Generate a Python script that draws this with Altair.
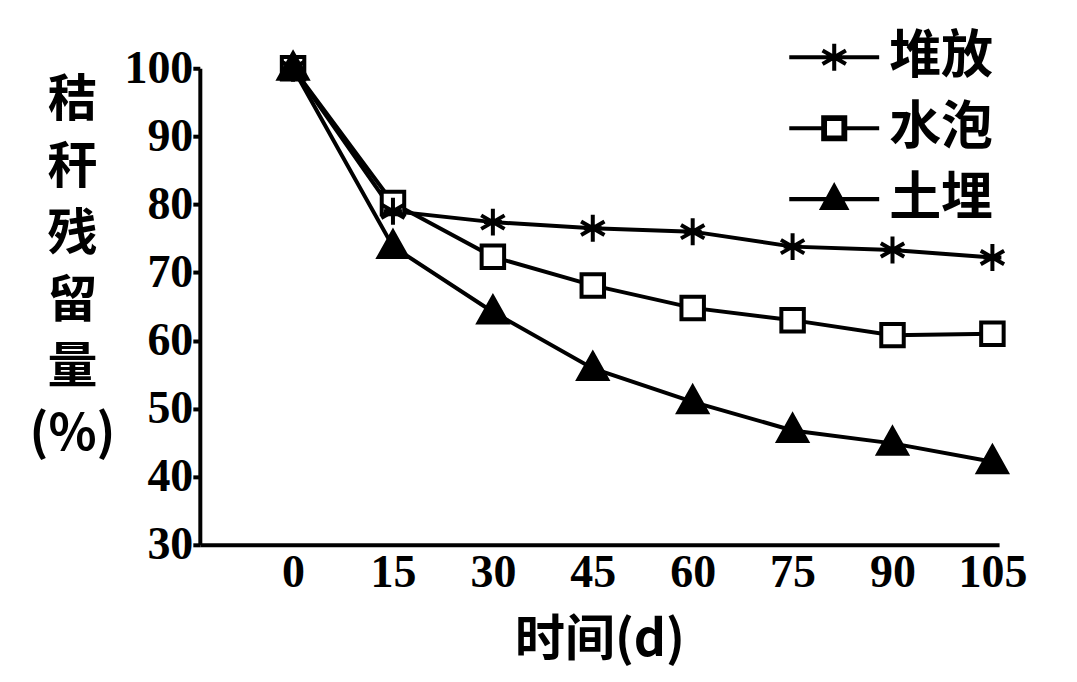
import altair as alt
import pandas as pd
import math

days = [0, 15, 30, 45, 60, 75, 90, 105]
series_names = ["堆放", "水泡", "土埋"]
duifang = [100, 79.0, 77.4, 76.5, 76.0, 73.8, 73.3, 72.2]
shuipao = [100, 80.2, 72.3, 68.1, 64.8, 63.0, 60.8, 61.0]
tumai = [100, 73.8, 64.2, 55.9, 51.0, 46.8, 44.9, 42.2]
y_ticks = [30, 40, 50, 60, 70, 80, 90, 100]

rows = []
# draw order: square first so the overlapped start point stays dark
for name, vals in [("水泡", shuipao), ("堆放", duifang), ("土埋", tumai)]:
    for d, v in zip(days, vals):
        rows.append({"day": d, "value": v, "series": name})
df = pd.DataFrame(rows)


# ---- symbol path helpers (style only) ----
def poly(pts, positive=True):
    area = sum(pts[i][0] * pts[(i + 1) % len(pts)][1] - pts[(i + 1) % len(pts)][0] * pts[i][1]
               for i in range(len(pts)))
    if (area > 0) != positive:
        pts = pts[::-1]
    s = "M" + "L".join(f"{x:.3f},{y:.3f}" for x, y in pts) + "Z"
    return s


def bar(x1, y1, x2, y2, w):
    dx, dy = x2 - x1, y2 - y1
    L = math.hypot(dx, dy)
    nx, ny = -dy / L * w / 2, dx / L * w / 2
    return poly([(x1 + nx, y1 + ny), (x2 + nx, y2 + ny), (x2 - nx, y2 - ny), (x1 - nx, y1 - ny)])


# marker shapes for the plotted points (unit paths)
ast = "M0,-0.9V0.9M-0.78,-0.45L0.78,0.45M-0.78,0.45L0.78,-0.45M-0.6,0H0.6"
sq = "M-0.75,-0.75H0.75V0.75H-0.75Z"
tri = "M0,-1L0.95,0.7H-0.95Z"

# legend shapes: line with marker in the middle, all built from filled areas
lw = 0.09
arm = 0.3
l_ast = (bar(-1, 0, 1, 0, lw) + bar(0, -arm, 0, arm, lw)
         + bar(-arm * 0.866, -arm * 0.5, arm * 0.866, arm * 0.5, lw)
         + bar(-arm * 0.866, arm * 0.5, arm * 0.866, -arm * 0.5, lw))
so, si = 0.29, 0.16
l_sq = (bar(-1, 0, -so, 0, lw) + bar(so, 0, 1, 0, lw)
        + poly([(-so, -so), (so, -so), (so, so), (-so, so)], True)
        + poly([(-si, -si), (si, -si), (si, si), (-si, si)], False))
l_tri = bar(-1, 0, 1, 0, lw) + poly([(0, -0.38), (0.34, 0.24), (-0.34, 0.24)], True)

cjk = "Noto Sans CJK SC"
serif = "Liberation Serif"

x_enc = alt.X(
    "day:Q",
    scale=alt.Scale(domain=[-14, 106], nice=False, zero=False),
    axis=alt.Axis(
        values=days, ticks=False, grid=False, labelFont=serif, labelFontSize=46,
        labelFontWeight="bold", labelColor="black", labelPadding=6,
        domainColor="black", domainWidth=4, title="时间(d)", titleFont=cjk,
        titleFontSize=50, titleFontWeight="bold", titleColor="black", titlePadding=20,
        labelOverlap=False,
    ),
)
y_enc = alt.Y(
    "value:Q",
    scale=alt.Scale(domain=[30, 100], nice=False, zero=False),
    axis=alt.Axis(
        values=y_ticks, grid=False, tickSize=7, tickWidth=4, tickColor="black",
        labelFont=serif, labelFontSize=46, labelFontWeight="bold", labelColor="black",
        labelPadding=0, domainColor="black", domainWidth=4,
        title=["秸", "秆", "残", "留", "量", "(%)"], titleFont=cjk, titleFontSize=50,
        titleFontWeight="bold", titleColor="black", titleAngle=0, titleAlign="center",
        titleBaseline="middle", titleX=-128, titleY=32, titleLineHeight=67,
        labelOverlap=False,
    ),
)

base = alt.Chart(df)

lines = base.mark_line(color="black", strokeWidth=4).encode(
    x=x_enc, y=y_enc, detail="series:N"
)

points = base.mark_point(filled=True, stroke="black", strokeWidth=4, opacity=1).encode(
    x=x_enc,
    y=y_enc,
    shape=alt.Shape("series:N", scale=alt.Scale(domain=series_names, range=[ast, sq, tri]), legend=None),
    fill=alt.Fill("series:N", scale=alt.Scale(domain=series_names, range=["black", "white", "black"]), legend=None),
    size=alt.value(900),
)

legend_layer = base.mark_point(filled=True, fill="black", opacity=0).encode(
    x=x_enc,
    y=y_enc,
    shape=alt.Shape(
        "series:N",
        scale=alt.Scale(domain=series_names, range=[l_ast, l_sq, l_tri]),
        legend=alt.Legend(
            title=None, orient="none", legendX=590, legendY=-56,
            symbolSize=8100, symbolStrokeWidth=0, symbolFillColor="black",
            symbolOpacity=1,
            labelFont=cjk, labelFontSize=52, labelFontWeight="bold", labelColor="black",
            labelOffset=10, rowPadding=-6,
        ),
    ),
)

chart = (
    alt.layer(lines, points, legend_layer)
    .resolve_scale(shape="independent", fill="independent")
    .properties(
        width=800, height=477, autosize="none",
        padding={"left": 192, "top": 60, "right": 70, "bottom": 128},
        background="white",
    )
    .configure_view(stroke=None)
)

chart.save("out.html", embed_options={"renderer": "svg", "actions": False})
